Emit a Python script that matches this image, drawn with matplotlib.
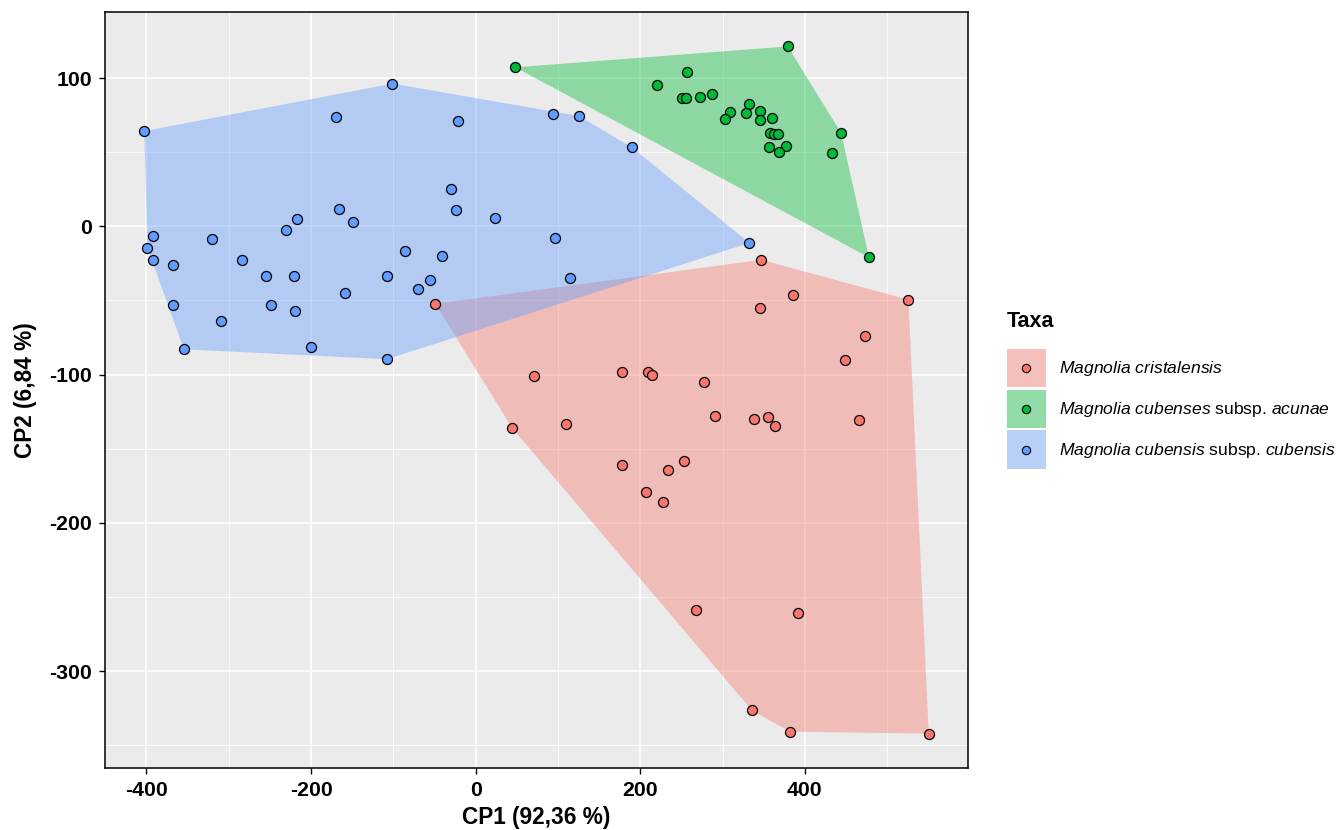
import numpy as np
import matplotlib
matplotlib.use('Agg')
from matplotlib import pyplot as plt
from matplotlib.patches import Polygon, Rectangle
from matplotlib.lines import Line2D

plt.rcParams['font.family'] = 'Liberation Sans'
plt.rcParams['mathtext.fontset'] = 'custom'
plt.rcParams['mathtext.it'] = 'Liberation Sans:italic'
plt.rcParams['mathtext.rm'] = 'Liberation Sans'
plt.rcParams['axes.unicode_minus'] = False

# PCA scores
cris_x = [-49.0, 347.1, 386.0, 345.9, 525.7, 473.0, 448.4, 70.8, 177.4, 209.0,
          214.7, 277.0, 290.4, 338.2, 355.6, 363.3, 465.7, 44.1, 109.7, 177.4,
          253.1, 234.1, 207.4, 228.1, 268.2, 391.3, 335.7, 381.9, 550.4]
cris_y = [-52.2, -22.6, -46.6, -55.3, -49.5, -74.2, -90.3, -101.1, -98.4, -97.9,
          -99.9, -104.7, -127.8, -129.8, -128.6, -134.7, -130.9, -135.8, -133.2, -160.7,
          -158.2, -164.3, -179.3, -185.6, -258.6, -260.9, -326.4, -340.7, -342.0]

acun_x = [48.2, 379.1, 256.4, 220.8, 250.3, 255.2, 273.0, 286.8, 308.6, 302.9,
          332.6, 328.9, 345.9, 345.9, 360.5, 357.2, 362.9, 367.7, 356.8, 376.7,
          368.2, 443.9, 432.6, 477.9]
acun_y = [107.2, 121.3, 104.2, 95.1, 86.3, 86.8, 87.2, 89.0, 77.3, 72.2,
          82.5, 76.5, 77.6, 71.8, 72.9, 62.8, 62.5, 62.1, 53.4, 54.3,
          49.8, 63.0, 49.4, -21.0]

cub_x = [-402.6, -101.2, -169.3, -21.5, -30.4, -23.5, 23.5, -165.6, -149.5, -217.5,
         -230.5, -392.1, -398.9, -392.5, -368.2, -320.4, -284.3, -254.3, -220.8, -249.1,
         -219.9, -367.3, -309.0, -354.4, -200.1, -107.8, -107.3, -159.2, -85.4, -40.9,
         -55.5, -70.5, 93.6, 125.2, 189.5, 96.0, 114.2, 332.6]
cub_y = [64.2, 96.2, 73.8, 70.9, 24.9, 11.0, 5.6, 11.9, 2.7, 5.0,
         -2.7, -6.5, -14.3, -22.6, -26.2, -8.5, -22.4, -33.8, -33.4, -52.9,
         -56.9, -52.9, -63.9, -82.9, -81.6, -89.6, -33.2, -45.0, -16.8, -19.9,
         -36.3, -42.1, 75.6, 74.4, 53.4, -7.8, -34.7, -11.2]

taxa = [r'$\mathit{Magnolia\ cristalensis}$',
        r'$\mathit{Magnolia\ cubenses}$ subsp. $\mathit{acunae}$',
        r'$\mathit{Magnolia\ cubensis}$ subsp. $\mathit{cubensis}$']
colors = ['#F8766D', '#00BA38', '#619CFF']


def hull(xs, ys):
    # monotone chain convex hull
    pts = sorted(set(zip(xs, ys)))

    def cross(o, a, b):
        return (a[0]-o[0])*(b[1]-o[1]) - (a[1]-o[1])*(b[0]-o[0])
    lower = []
    for p in pts:
        while len(lower) >= 2 and cross(lower[-2], lower[-1], p) <= 0:
            lower.pop()
        lower.append(p)
    upper = []
    for p in reversed(pts):
        while len(upper) >= 2 and cross(upper[-2], upper[-1], p) <= 0:
            upper.pop()
        upper.append(p)
    return np.array(lower[:-1] + upper[:-1])


class KeyHandler:
    # ggplot-like key: filled square with a point in the middle
    def legend_artist(self, legend, orig_handle, fontsize, handlebox):
        x0, y0 = -handlebox.xdescent, -handlebox.ydescent
        w, h = handlebox.width, handlebox.height
        c = orig_handle.get_markerfacecolor()
        tr = handlebox.get_transform()
        bg = Rectangle((x0, y0), w, h, facecolor='#F2F2F2', edgecolor='none',
                       transform=tr)
        fg = Rectangle((x0, y0), w, h, facecolor=c, alpha=0.4, edgecolor='none',
                       transform=tr)
        dot = Line2D([x0 + w/2], [y0 + h/2], marker='o', linestyle='none',
                     markersize=6, markerfacecolor=c, markeredgecolor='black',
                     markeredgewidth=0.8, transform=tr)
        for a in (bg, fg, dot):
            handlebox.add_artist(a)
        return fg


groups = [(cris_x, cris_y), (acun_x, acun_y), (cub_x, cub_y)]

fig = plt.figure(figsize=(13.38, 8.3), dpi=100)
ax = fig.add_axes([105/1338, 1-768/830, 863/1338, 756/830])
ax.set_facecolor('#EBEBEB')

for (gx, gy), c in zip(groups, colors):
    ax.add_patch(Polygon(hull(gx, gy), closed=True, facecolor=c, alpha=0.4,
                         edgecolor='none', zorder=2))
for (gx, gy), c in zip(groups, colors):
    ax.scatter(gx, gy, s=52, color=c, edgecolor='black', linewidth=0.9, zorder=3)

ax.set_xlim(-450.3, 598.1)
ax.set_ylim(-365.2, 144.5)
ax.set_xticks([-400, -200, 0, 200, 400])
ax.set_yticks([-300, -200, -100, 0, 100])
ax.set_xticks([-300, -100, 100, 300, 500], minor=True)
ax.set_yticks([-350, -250, -150, -50, 50], minor=True)
ax.grid(which='major', color='white', linewidth=1.1, zorder=0)
ax.grid(which='minor', color='white', linewidth=0.55, zorder=0)
ax.set_axisbelow(True)
ax.tick_params(which='major', length=4.5, width=1, color='black', labelsize=15.3,
               labelcolor='black', pad=5)
ax.tick_params(which='minor', length=0)
for lab in ax.get_xticklabels() + ax.get_yticklabels():
    lab.set_fontweight('bold')
for sp in ax.spines.values():
    sp.set_color('black')
    sp.set_linewidth(1.1)

ax.set_xlabel('CP1 (92,36 %)', fontsize=16.3, fontweight='bold', labelpad=4)
ax.set_ylabel('CP2 (6,84 %)', fontsize=16.3, fontweight='bold', labelpad=9)

handles = [Line2D([], [], marker='o', markerfacecolor=c) for c in colors]
leg = fig.legend(handles, taxa, handler_map={Line2D: KeyHandler()},
                 loc='center left', bbox_to_anchor=(1007/1338, 1-390/830),
                 frameon=False, fontsize=12.6, title='Taxa',
                 title_fontproperties={'weight': 'bold', 'size': 15.5},
                 handlelength=2.22, handleheight=3.0, labelspacing=0.14,
                 handletextpad=0.73, borderaxespad=0, borderpad=0)
leg._legend_box.align = 'left'
leg._legend_box.sep = 12

fig.savefig('out.png', dpi=100)
